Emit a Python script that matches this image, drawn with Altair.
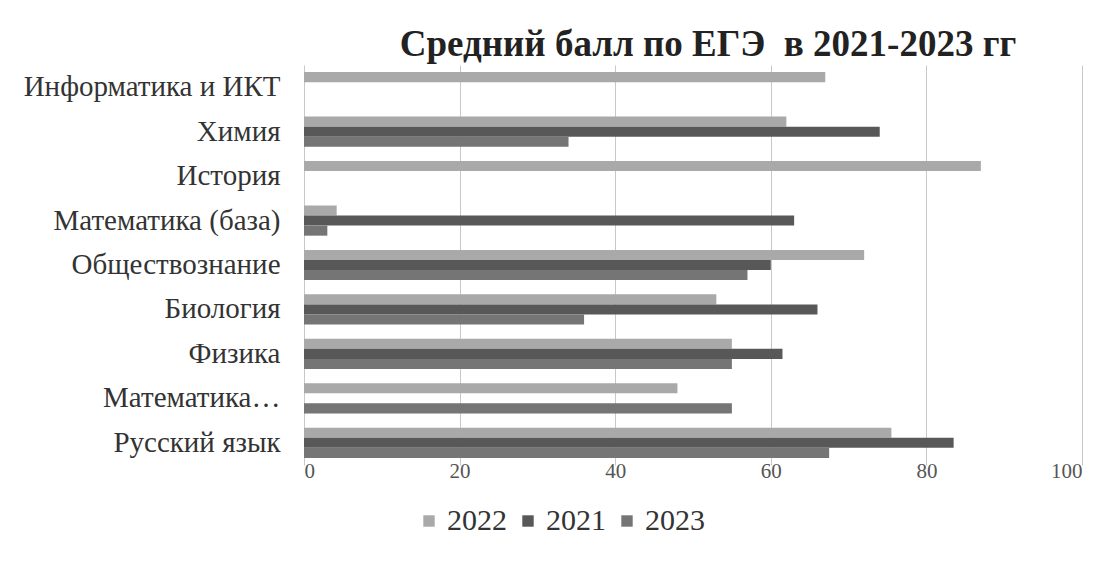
import altair as alt
import pandas as pd

subjects = ["Информатика и ИКТ", "Химия", "История", "Математика (база)",
            "Обществознание", "Биология", "Физика", "Математика…", "Русский язык"]
years = ["2022", "2021", "2023"]
v2022 = [67, 62, 87, 4.2, 72, 53, 55, 48, 75.5]
v2021 = [None, 74, None, 63, 60, 66, 61.5, None, 83.5]
v2023 = [None, 34, None, 3, 57, 36, 55, 55, 67.5]
colors = ["#a9a9a9", "#585858", "#757575"]

rows = []
for i, s in enumerate(subjects):
    for y, vals in zip(years, [v2022, v2021, v2023]):
        if vals[i] is not None:
            rows.append({"subject": s, "year": y, "value": vals[i]})
df = pd.DataFrame(rows)

font = "Liberation Serif"

chart = alt.Chart(df).mark_bar(stroke=None).encode(
    y=alt.Y("subject:N", sort=subjects,
            scale=alt.Scale(paddingInner=0.32, paddingOuter=0.16),
            axis=alt.Axis(title=None, labelFont=font, labelFontSize=29,
                          labelColor="#333333", labelPadding=24, ticks=False,
                          domain=False, labelLimit=400)),
    yOffset=alt.YOffset("year:N", sort=years, scale=alt.Scale(paddingInner=0)),
    x=alt.X("value:Q", scale=alt.Scale(domain=[0, 100]),
            axis=alt.Axis(title=None, values=[0, 20, 40, 60, 80, 100],
                          labelFont=font, labelFontSize=21, labelColor="#555555",
                          ticks=False, domain=False, labelPadding=-5,
                          grid=True, gridColor="#c8c8c8", gridWidth=1)),
    color=alt.Color("year:N", sort=years,
                    scale=alt.Scale(domain=years, range=colors),
                    legend=alt.Legend(title=None, orient="none", direction="horizontal",
                                      legendX=110, legendY=441,
                                      labelFont=font, labelFontSize=30,
                                      labelColor="#333333", symbolType="square",
                                      symbolSize=130, symbolStrokeWidth=0,
                                      columnPadding=6, labelOffset=3)),
).properties(
    width=778, height=400,
    title=alt.TitleParams("Средний балл по ЕГЭ \u00a0в 2021-2023 гг", font=font,
                          fontSize=37, fontWeight="bold", color="#222222",
                          anchor="middle", offset=1, dx=15),
    autosize=alt.AutoSizeParams(type="none"),
    padding={"left": 296, "top": 57, "right": 10, "bottom": 80},
).configure(font=font).configure_view(stroke=None)

chart.save("out.html", embed_options={"renderer": "svg", "actions": False})
